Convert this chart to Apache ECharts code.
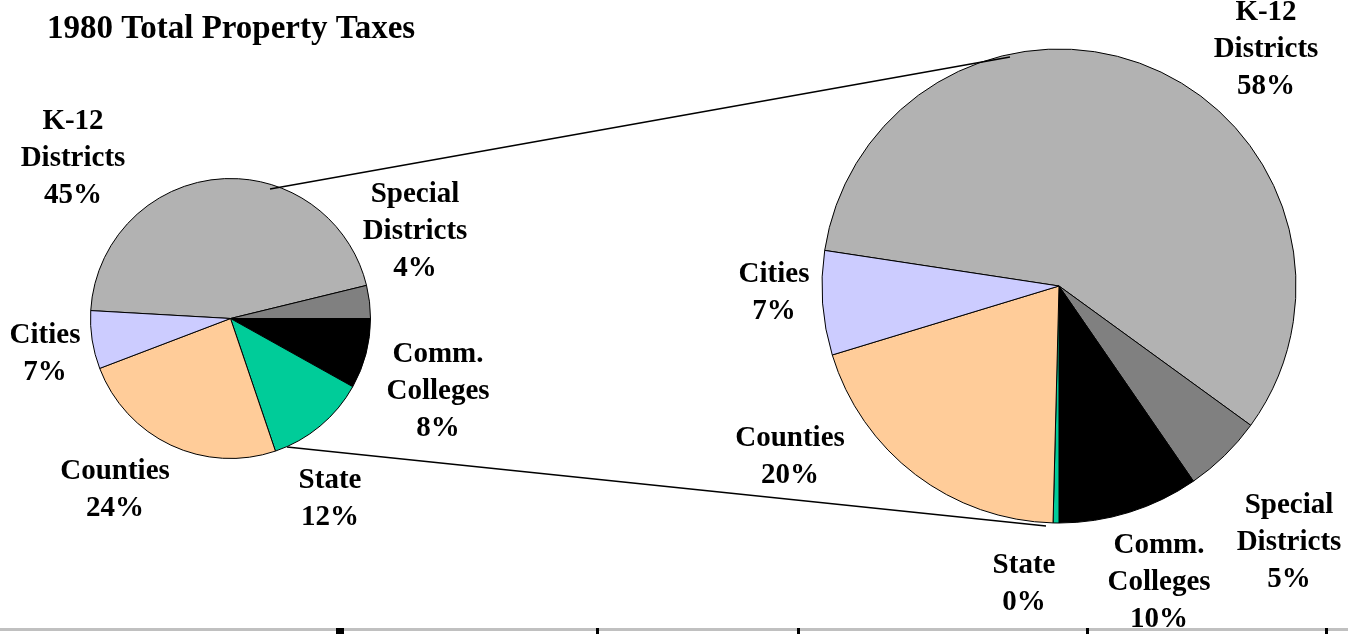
<!DOCTYPE html>
<html>
<head>
<meta charset="utf-8">
<script src="https://cdn.jsdelivr.net/npm/echarts@6/dist/echarts.min.js"></script>
<style>
html,body{margin:0;padding:0;background:#fff;}
#chart{width:1348px;height:634px;}
</style>
</head>
<body>
<div id="chart"></div>
<script>
// ---- data ----
const titleText = '1980 Total Property Taxes';
const categories = ['K-12\nDistricts', 'Special\nDistricts', 'Comm.\nColleges', 'State', 'Counties', 'Cities'];
const colors = ['#B2B2B2', '#808080', '#000000', '#00CC99', '#FFCC99', '#CCCCFF'];
const leftValues = [45.3, 3.8, 8.1, 11.7, 24.4, 6.7];   // 1980 totals (small pie)
const rightValues = [57.6, 5.4, 9.6, 0.4, 19.9, 7.1];   // large pie

// ---- layout (not data) ----
const leftPie = {center: [230.5, 318.5], radius: 140};
const rightPie = {center: [1059, 286], radius: 237};
const leftLabelPos = [[73, 158.5], [415, 232], [438, 391.5], [330, 499.5], [115, 490], [45, 354]];
const rightLabelPos = [[1266, 49.5], [1289, 542.5], [1159, 583], [1024, 584], [790, 457.5], [774, 293.5]];

function sum(a){ return a.reduce((s, v) => s + v, 0); }
// left: Comm. Colleges begins at 3 o'clock; right: State begins at 6 o'clock
const leftStart = (leftValues[0] + leftValues[1]) / sum(leftValues) * 360;
const rightStart = -90 + (rightValues[0] + rightValues[1] + rightValues[2]) / sum(rightValues) * 360;

const font = "'Liberation Serif', 'Times New Roman', serif";

function makePie(values, cfg, start, labelPos) {
  return {
    type: 'pie',
    center: cfg.center,
    radius: cfg.radius,
    startAngle: start,
    clockwise: true,
    silent: true,
    avoidLabelOverlap: false,
    animation: false,
    data: categories.map((c, i) => ({name: c, value: values[i], itemStyle: {color: colors[i]}})),
    itemStyle: {borderColor: '#000', borderWidth: 1},
    label: {
      show: true,
      position: 'outside',
      formatter: p => p.name + '\n' + Math.round(p.percent) + '%',
      fontFamily: font,
      fontWeight: 'bold',
      fontSize: 29,
      lineHeight: 37,
      color: '#000',
      align: 'center'
    },
    labelLine: {show: false},
    labelLayout: p => ({x: labelPos[p.dataIndex][0], y: labelPos[p.dataIndex][1], align: 'center', verticalAlign: 'middle'})
  };
}

const chart = echarts.init(document.getElementById('chart'), null, {renderer: 'canvas'});
const tickXs = [596, 797, 1086, 1325];
chart.setOption({
  animation: false,
  backgroundColor: '#fff',
  title: {
    text: titleText,
    left: 42,
    top: 8,
    textStyle: {fontFamily: font, fontWeight: 'bold', fontSize: 33, color: '#000'}
  },
  series: [
    makePie(leftValues, leftPie, leftStart, leftLabelPos),
    makePie(rightValues, rightPie, rightStart, rightLabelPos)
  ],
  graphic: [
    {type: 'line', z: 100, shape: {x1: 270, y1: 189, x2: 1010, y2: 57}, style: {stroke: '#000', lineWidth: 1.5}},
    {type: 'line', z: 100, shape: {x1: 287, y1: 447, x2: 1046, y2: 526}, style: {stroke: '#000', lineWidth: 1.5}},
    {type: 'rect', z: 100, shape: {x: 0, y: 628, width: 1348, height: 3}, style: {fill: '#C0C0C0'}},
    {type: 'rect', z: 101, shape: {x: 336, y: 628, width: 8, height: 6}, style: {fill: '#000'}}
  ].concat(tickXs.map(x => ({type: 'rect', z: 101, shape: {x: x, y: 628, width: 3, height: 6}, style: {fill: '#000'}})))
});
</script>
</body>
</html>
